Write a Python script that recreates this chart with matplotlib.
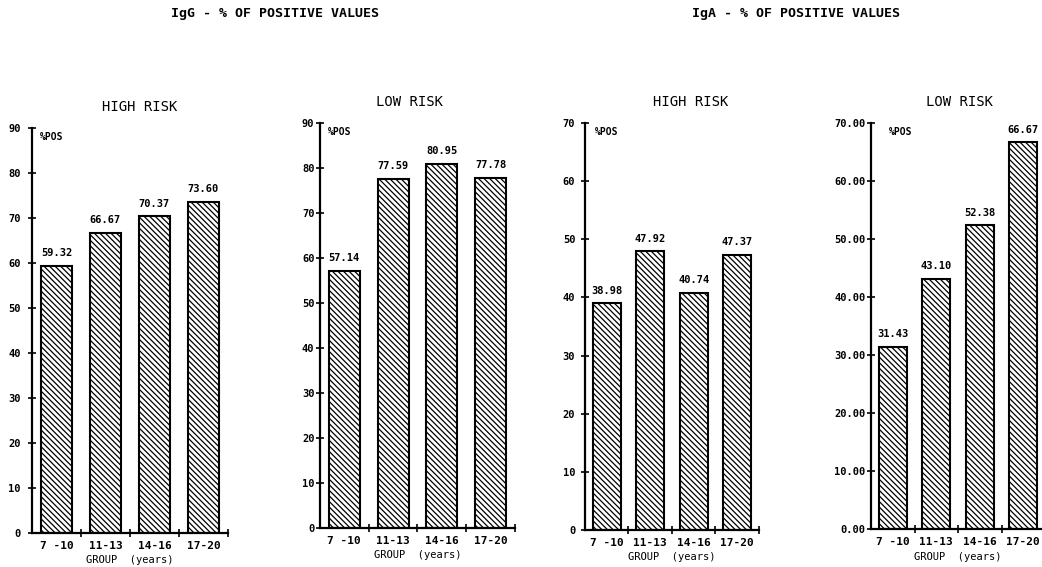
# IgG / IgA percentage of positive values by age group, high vs low risk
import numpy as np
import matplotlib.pyplot as plt

groups = ["7 -10", "11-13", "14-16", "17-20"]

igg_high = [59.32, 66.67, 70.37, 73.60]
igg_low = [57.14, 77.59, 80.95, 77.78]
iga_high = [38.98, 47.92, 40.74, 47.37]
iga_low = [31.43, 43.10, 52.38, 66.67]

panel_data = [igg_high, igg_low, iga_high, iga_low]
panel_titles = ["HIGH RISK", "LOW RISK", "HIGH RISK", "LOW RISK"]
y_max = [90, 90, 70, 70]
y_fmt = ["%d", "%d", "%d", "%.2f"]

plt.rcParams['font.family'] = ['DejaVu Sans Mono', 'DejaVu Sans']
plt.rcParams['font.weight'] = 'bold'
plt.rcParams['hatch.linewidth'] = 0.9

fig = plt.figure(figsize=(10.42, 5.67), dpi=100)

# axes boxes in figure fraction
boxes = [[0.0307, 0.0600, 0.1880, 0.7143],
         [0.3071, 0.0688, 0.1871, 0.7143],
         [0.5614, 0.0653, 0.1670, 0.7178],
         [0.8359, 0.0670, 0.1670, 0.7160]]
title_x = [0.55, 0.46, 0.61, 0.51]
pos_dx = [8, 8, 10, 18]     # pixel offset of %POS from y axis
ypad = [5, 1, 4, 1]

x = np.arange(len(groups)) + 0.5

for i in range(4):
    ax = fig.add_axes(boxes[i])
    vals = panel_data[i]
    ax.bar(x, vals, width=0.64, color='white', edgecolor='black',
           hatch='\\' * 6, linewidth=1.5)
    for xi, v in zip(x, vals):
        ax.annotate("%.2f" % v, (xi, v), xytext=(0, 5.5), textcoords='offset points',
                    ha='center', va='bottom', fontsize=7.5)

    ax.set_xlim(0, 4)
    ax.set_ylim(0, y_max[i])
    for s in ['top', 'right']:
        ax.spines[s].set_visible(False)
    for s in ['left', 'bottom']:
        ax.spines[s].set_linewidth(1.6)

    yt = list(range(0, y_max[i] + 1, 10))
    ax.set_yticks(yt)
    ax.set_yticklabels([y_fmt[i] % t for t in yt], fontsize=7.5)
    ax.set_xticks([1, 2, 3, 4])
    ax.set_xticklabels([])
    ax.set_xticks(x, minor=True)
    ax.set_xticklabels(groups, minor=True, fontsize=8)
    ax.tick_params(axis='both', which='major', direction='inout', length=6, width=1.2)
    ax.tick_params(axis='y', pad=ypad[i])
    ax.tick_params(axis='x', which='minor', length=0, pad=6)
    ax.set_xlabel("GROUP  (years)", fontsize=7.5, labelpad=3)

    ax.set_title(panel_titles[i], x=title_x[i], pad=12, fontsize=10)
    ax.annotate("%POS", xy=(0, 1), xycoords='axes fraction',
                xytext=(pos_dx[i] * 0.72, -3), textcoords='offset points',
                ha='left', va='top', fontsize=7)

fig.text(0.264, 0.977, "IgG - % OF POSITIVE VALUES", ha='center', va='center', fontsize=9.5)
fig.text(0.764, 0.977, "IgA - % OF POSITIVE VALUES", ha='center', va='center', fontsize=9.5)

fig.savefig("out.png", dpi=100)
